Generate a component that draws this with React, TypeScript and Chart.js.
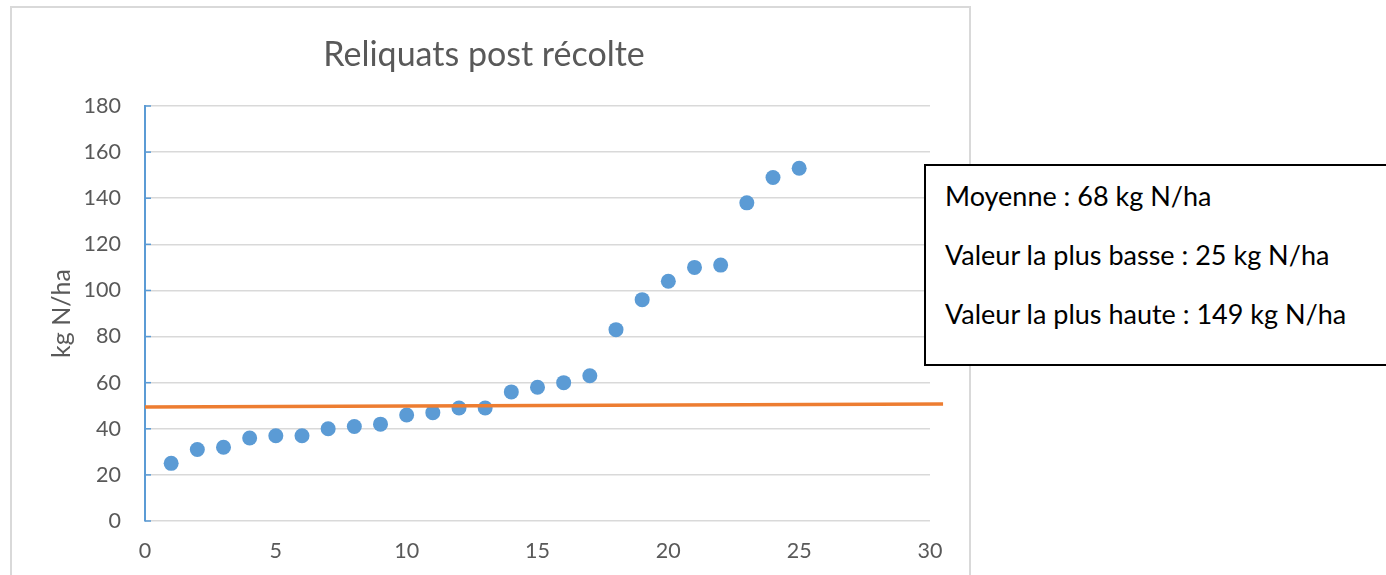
import React, { useEffect, useRef } from "react";
import { Chart, registerables } from "chart.js";

Chart.register(...registerables);

const chartTitle = "Reliquats post récolte";
const yAxisTitle = "kg N/ha";
const xValues = [1, 2, 3, 4, 5, 6, 7, 8, 9, 10, 11, 12, 13, 14, 15, 16, 17, 18, 19, 20, 21, 22, 23, 24, 25];
const yValues = [25, 31, 32, 36, 37, 37, 40, 41, 42, 46, 47, 49, 49, 56, 58, 60, 63, 83, 96, 104, 110, 111, 138, 149, 153];
const trendX = [0, 30.5];
const trendY = [49.4, 50.7];
const xMin = 0;
const xMax = 30;
const xStep = 5;
const yMin = 0;
const yMax = 180;
const yStep = 20;
const boxLines = [
  "Moyenne : 68 kg N/ha",
  "Valeur la plus basse : 25 kg N/ha",
  "Valeur la plus haute : 149 kg N/ha",
];

const FONT = "Lato, 'Open Sans', sans-serif";
const GREY_TEXT = "#595959";
const BLUE = "#5b9bd5";
const ORANGE = "#ed7d31";
const GRID = "#d9d9d9";

const innerTicks = {
  id: "innerTicks",
  beforeDatasetsDraw(chart: any) {
    const y = chart.scales.y;
    const area = chart.chartArea;
    const ctx = chart.ctx;
    ctx.save();
    ctx.strokeStyle = BLUE;
    ctx.lineWidth = 1.5;
    y.ticks.forEach((t: any) => {
      const py = y.getPixelForValue(t.value);
      ctx.beginPath();
      ctx.moveTo(area.left, py);
      ctx.lineTo(area.left + 6, py);
      ctx.stroke();
    });
    ctx.restore();
  },
};

export default function App() {
  const ref = useRef<HTMLCanvasElement | null>(null);

  useEffect(() => {
    let chart: Chart | null = null;
    let cancelled = false;
    const make = () => {
      if (cancelled || !ref.current) return;
      Chart.defaults.font.family = FONT;
      chart = new Chart(ref.current, {
        type: "scatter",
        data: {
          datasets: [
            {
              label: "Tendance",
              data: trendX.map((x, i) => ({ x, y: trendY[i] })),
              showLine: true,
              borderColor: ORANGE,
              backgroundColor: ORANGE,
              borderWidth: 3.5,
              pointRadius: 0,
              clip: false as any,
              order: 0,
            },
            {
              label: "Reliquats",
              data: xValues.map((x, i) => ({ x, y: yValues[i] })),
              backgroundColor: BLUE,
              borderColor: BLUE,
              borderWidth: 0,
              pointRadius: 7.5,
              order: 1,
            },
          ],
        },
        options: {
          animation: false,
          responsive: false,
          maintainAspectRatio: false,
          events: [],
          layout: { padding: { left: 38, right: 40, top: 0, bottom: 0 } },
          plugins: {
            legend: { display: false },
            tooltip: { enabled: false },
            title: {
              display: true,
              text: chartTitle,
              color: GREY_TEXT,
              font: { family: FONT, size: 34, weight: "normal" as any, lineHeight: 1.2 },
              padding: { top: 34.6, bottom: 30.6 },
            },
          },
          scales: {
            x: {
              type: "linear",
              min: xMin,
              max: xMax,
              ticks: {
                stepSize: xStep,
                color: GREY_TEXT,
                font: { family: FONT, size: 21.5 },
                padding: 17,
              },
              grid: { display: false, drawTicks: false },
              border: { display: false },
              afterFit: (s: any) => {
                s.height = 54;
              },
            },
            y: {
              type: "linear",
              min: yMin,
              max: yMax,
              ticks: {
                stepSize: yStep,
                color: GREY_TEXT,
                font: { family: FONT, size: 21.5 },
                padding: 24,
              },
              grid: { color: GRID, lineWidth: 1.5, drawTicks: false },
              border: { color: BLUE, width: 2 },
              title: {
                display: true,
                text: yAxisTitle,
                color: GREY_TEXT,
                font: { family: FONT, size: 25, lineHeight: 1.2 },
                padding: { top: 9, bottom: 0 },
              },
              afterFit: (s: any) => {
                s.width = 107;
              },
            },
          },
        },
        plugins: [innerTicks],
      });
    };
    const fontsAny = (document as any).fonts;
    if (fontsAny && fontsAny.load) {
      Promise.all([
        fontsAny.load(`20px Lato`),
        fontsAny.load(`34px Lato`),
      ]).then(make, make);
    } else {
      make();
    }
    return () => {
      cancelled = true;
      if (chart) chart.destroy();
    };
  }, []);

  return (
    <div
      style={{
        position: "absolute",
        left: 0,
        top: 0,
        width: 1386,
        height: 575,
        overflow: "hidden",
        background: "#ffffff",
      }}
    >
      <div
        style={{
          position: "absolute",
          left: 10,
          top: 6,
          width: 961,
          height: 640,
          border: `2px solid ${GRID}`,
          boxSizing: "border-box",
        }}
      />
      <canvas
        ref={ref}
        width={970}
        height={575}
        style={{ position: "absolute", left: 0, top: 0, width: 970, height: 575 }}
      />
      <div
        style={{
          position: "absolute",
          left: 924,
          top: 164,
          width: 500,
          height: 202,
          border: "2px solid #000000",
          boxSizing: "border-box",
          background: "#ffffff",
          fontFamily: FONT,
          fontSize: 27,
          color: "#000000",
          paddingLeft: 19,
        }}
      >
        {boxLines.map((t, i) => (
          <div key={i} style={{ lineHeight: "59px", height: 59, whiteSpace: "nowrap" }}>
            {t}
          </div>
        ))}
      </div>
    </div>
  );
}
